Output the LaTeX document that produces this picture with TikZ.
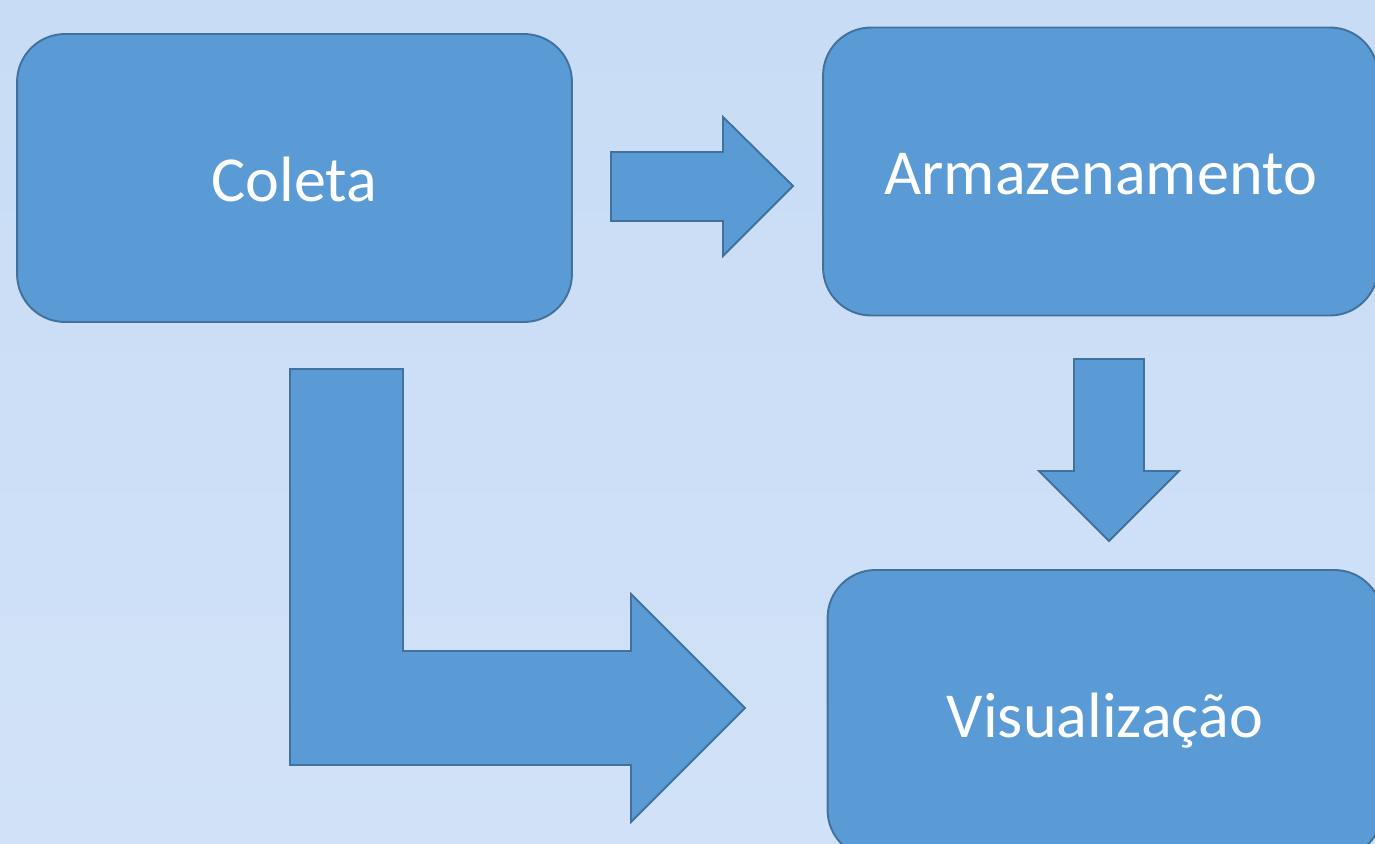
\documentclass[tikz,border=0pt]{standalone}
\usepackage{fontspec}
\setmainfont{Carlito}
\usetikzlibrary{positioning}
\definecolor{boxfill}{HTML}{5B9BD5}
\definecolor{boxline}{HTML}{41719C}
\definecolor{bgtop}{RGB}{200,220,245}
\definecolor{bgbot}{RGB}{209,226,248}
\tikzset{
	stagebox/.style={draw=boxline, fill=boxfill, line width=1.1pt, rounded corners=0.96cm,
		minimum width=11.1cm, minimum height=5.76cm, text=white, text height=0.94cm, text depth=0pt,
		font=\fontsize{36.5}{44}\selectfont}
}
\tikzset{
	blockarrow/.style={draw=boxline, fill=boxfill, line width=1.1pt, line join=miter}
}

\begin{document}
\begin{tikzpicture}[x=0.02cm, y=-0.02cm]
      \shade[top color=bgtop, bottom color=bgbot] (0,0) rectangle (1375,844);
      \useasboundingbox (0,0) rectangle (1375,844);
      \node[stagebox] (coleta) at (294.5,178) {Coleta};
      \node[stagebox] (armaz) at (1100.5,171.5) {Armazenamento};
      \node[stagebox] (visual) at (1105,714) {Visualização};
      % setas
      \draw[blockarrow] (611,152) -- (723,152) -- (723,117) -- (793,186) -- (723,256) -- (723,221) -- (611,221) -- cycle;
      \draw[blockarrow] (1074,359) -- (1144,359) -- (1144,471) -- (1179,471) -- (1109,541) -- (1039,471) -- (1074,471) -- cycle;
      \draw[blockarrow] (290,369) -- (403,369) -- (403,651) -- (631,651) -- (631,594) -- (745,708) -- (631,822) -- (631,765) -- (290,765) -- cycle;
    \end{tikzpicture}
\end{document}
